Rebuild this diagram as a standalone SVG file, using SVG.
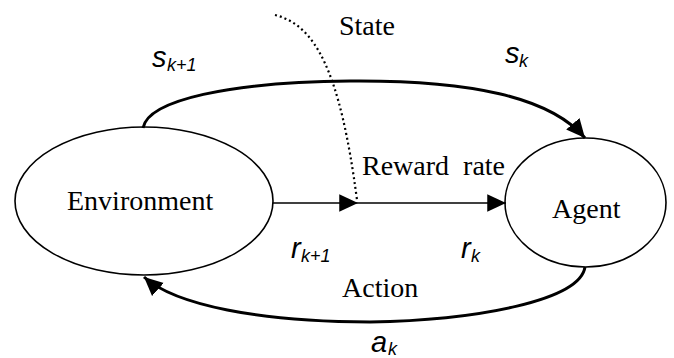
<svg xmlns="http://www.w3.org/2000/svg" width="674" height="358" viewBox="0 0 674 358">
<style>
.node{fill:#fff;stroke:#000;stroke-width:1.6}
.serif{font-family:"Liberation Serif","Times New Roman",serif;font-size:28px;fill:#000}
.m{font-family:"Liberation Sans",Arial,sans-serif;font-style:italic;font-size:29px;fill:#000}
.sub{font-family:"Liberation Sans",Arial,sans-serif;font-style:italic;font-size:18px;fill:#000}
.thick{fill:none;stroke:#000;stroke-width:3}
.thin{fill:none;stroke:#000;stroke-width:1.6}
.dot{fill:none;stroke:#000;stroke-width:2.2;stroke-dasharray:2 3}
</style>
<defs>
<marker id="ah" markerUnits="userSpaceOnUse" markerWidth="20" markerHeight="20" viewBox="0 0 16 16" refX="15" refY="8" orient="auto">
<path d="M0,1 L15,8 L0,15 Z" fill="#000"/>
</marker>
</defs>
<g id="environment">
<ellipse class="node" cx="144" cy="201" rx="129" ry="74"/>
<text class="serif" x="67" y="210">Environment</text>
</g>
<g id="agent">
<ellipse class="node" cx="585.5" cy="202.5" rx="80.5" ry="64.5"/>
<text class="serif" x="552" y="218">Agent</text>
</g>
<g id="connectors">
<path class="thick" d="M143,128 C148,100 230,82 350,81 C470,80 550,97 585,138" marker-end="url(#ah)"/>
<path class="thick" d="M585,267 C580,300 480,320 370,322 C260,322 175,305 144,277" marker-end="url(#ah)"/>
<path class="thin" d="M273,203 L358,203" marker-end="url(#ah)"/>
<path class="thin" d="M358,203 L506,203" marker-end="url(#ah)"/>
<path class="dot" d="M275,15 C315,25 340,70 357,200"/>
</g>
<g id="labels">
<text class="serif" x="339" y="35">State</text>
<text class="serif" x="362" y="175" xml:space="preserve">Reward  rate</text>
<text class="serif" x="342" y="297">Action</text>
<text><tspan class="m" x="152" y="67">s</tspan><tspan class="sub" x="167" y="71">k+1</tspan></text>
<text><tspan class="m" x="505" y="63">s</tspan><tspan class="sub" x="519" y="67">k</tspan></text>
<text><tspan class="m" x="291" y="258">r</tspan><tspan class="sub" x="301" y="262">k+1</tspan></text>
<text><tspan class="m" x="461" y="258">r</tspan><tspan class="sub" x="471" y="262">k</tspan></text>
<text><tspan class="m" x="371" y="352">a</tspan><tspan class="sub" x="388" y="355">k</tspan></text>
</g>
</svg>
